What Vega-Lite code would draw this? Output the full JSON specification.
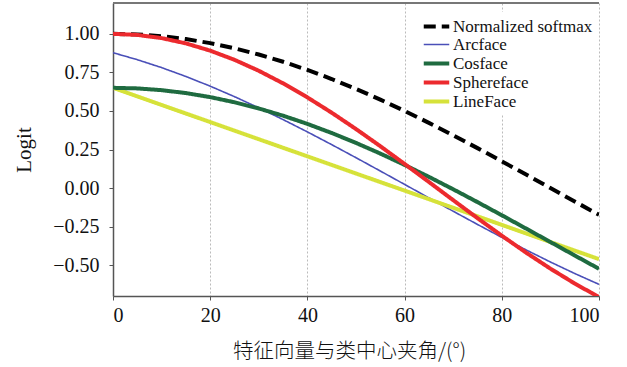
{
  "$schema": "https://vega.github.io/schema/vega-lite/v6.json",
  "width": 486,
  "height": 293,
  "padding": {"left": 113, "top": 3, "right": 28, "bottom": 71},
  "autosize": "none",
  "background": "white",
  "config": {
    "view": {"stroke": null},
    "font": "Liberation Serif",
    "axis": {
      "labelFont": "Liberation Serif",
      "titleFont": "Liberation Serif",
      "labelFontSize": 20,
      "titleFontSize": 21,
      "labelColor": "#111",
      "titleColor": "#111",
      "titleFontWeight": "normal",
      "domainColor": "#555",
      "domainWidth": 1.5,
      "tickColor": "#555",
      "tickSize": 4,
      "gridColor": "#bbbbbb",
      "gridDash": [2, 2],
      "gridWidth": 1
    }
  },
  "datasets": {
    "curves": [
      {"a": 0, "s": "Arcface", "v": 0.8776},
      {"a": 5, "s": "Arcface", "v": 0.8325},
      {"a": 10, "s": "Arcface", "v": 0.781},
      {"a": 15, "s": "Arcface", "v": 0.7236},
      {"a": 20, "s": "Arcface", "v": 0.6607},
      {"a": 25, "s": "Arcface", "v": 0.5927},
      {"a": 30, "s": "Arcface", "v": 0.5203},
      {"a": 35, "s": "Arcface", "v": 0.4439},
      {"a": 40, "s": "Arcface", "v": 0.3641},
      {"a": 45, "s": "Arcface", "v": 0.2815},
      {"a": 50, "s": "Arcface", "v": 0.1968},
      {"a": 55, "s": "Arcface", "v": 0.1106},
      {"a": 60, "s": "Arcface", "v": 0.0236},
      {"a": 65, "s": "Arcface", "v": -0.0636},
      {"a": 70, "s": "Arcface", "v": -0.1504},
      {"a": 75, "s": "Arcface", "v": -0.236},
      {"a": 80, "s": "Arcface", "v": -0.3198},
      {"a": 85, "s": "Arcface", "v": -0.4011},
      {"a": 90, "s": "Arcface", "v": -0.4794},
      {"a": 95, "s": "Arcface", "v": -0.5541},
      {"a": 100, "s": "Arcface", "v": -0.6245},

      {"a": 0, "s": "LineFace", "v": 0.65},
      {"a": 5, "s": "LineFace", "v": 0.5944},
      {"a": 10, "s": "LineFace", "v": 0.5389},
      {"a": 15, "s": "LineFace", "v": 0.4833},
      {"a": 20, "s": "LineFace", "v": 0.4278},
      {"a": 25, "s": "LineFace", "v": 0.3722},
      {"a": 30, "s": "LineFace", "v": 0.3167},
      {"a": 35, "s": "LineFace", "v": 0.2611},
      {"a": 40, "s": "LineFace", "v": 0.2056},
      {"a": 45, "s": "LineFace", "v": 0.15},
      {"a": 50, "s": "LineFace", "v": 0.0944},
      {"a": 55, "s": "LineFace", "v": 0.0389},
      {"a": 60, "s": "LineFace", "v": -0.0167},
      {"a": 65, "s": "LineFace", "v": -0.0722},
      {"a": 70, "s": "LineFace", "v": -0.1278},
      {"a": 75, "s": "LineFace", "v": -0.1833},
      {"a": 80, "s": "LineFace", "v": -0.2389},
      {"a": 85, "s": "LineFace", "v": -0.2944},
      {"a": 90, "s": "LineFace", "v": -0.35},
      {"a": 95, "s": "LineFace", "v": -0.4056},
      {"a": 100, "s": "LineFace", "v": -0.4611},

      {"a": 0, "s": "Cosface", "v": 0.65},
      {"a": 5, "s": "Cosface", "v": 0.6462},
      {"a": 10, "s": "Cosface", "v": 0.6348},
      {"a": 15, "s": "Cosface", "v": 0.6159},
      {"a": 20, "s": "Cosface", "v": 0.5897},
      {"a": 25, "s": "Cosface", "v": 0.5563},
      {"a": 30, "s": "Cosface", "v": 0.516},
      {"a": 35, "s": "Cosface", "v": 0.4692},
      {"a": 40, "s": "Cosface", "v": 0.416},
      {"a": 45, "s": "Cosface", "v": 0.3571},
      {"a": 50, "s": "Cosface", "v": 0.2928},
      {"a": 55, "s": "Cosface", "v": 0.2236},
      {"a": 60, "s": "Cosface", "v": 0.15},
      {"a": 65, "s": "Cosface", "v": 0.0726},
      {"a": 70, "s": "Cosface", "v": -0.008},
      {"a": 75, "s": "Cosface", "v": -0.0912},
      {"a": 80, "s": "Cosface", "v": -0.1764},
      {"a": 85, "s": "Cosface", "v": -0.2628},
      {"a": 90, "s": "Cosface", "v": -0.35},
      {"a": 95, "s": "Cosface", "v": -0.4372},
      {"a": 100, "s": "Cosface", "v": -0.5237},

      {"a": 0, "s": "Normalized softmax", "v": 1.0},
      {"a": 5, "s": "Normalized softmax", "v": 0.9962},
      {"a": 10, "s": "Normalized softmax", "v": 0.9848},
      {"a": 15, "s": "Normalized softmax", "v": 0.9659},
      {"a": 20, "s": "Normalized softmax", "v": 0.9397},
      {"a": 25, "s": "Normalized softmax", "v": 0.9063},
      {"a": 30, "s": "Normalized softmax", "v": 0.866},
      {"a": 35, "s": "Normalized softmax", "v": 0.8192},
      {"a": 40, "s": "Normalized softmax", "v": 0.766},
      {"a": 45, "s": "Normalized softmax", "v": 0.7071},
      {"a": 50, "s": "Normalized softmax", "v": 0.6428},
      {"a": 55, "s": "Normalized softmax", "v": 0.5736},
      {"a": 60, "s": "Normalized softmax", "v": 0.5},
      {"a": 65, "s": "Normalized softmax", "v": 0.4226},
      {"a": 70, "s": "Normalized softmax", "v": 0.342},
      {"a": 75, "s": "Normalized softmax", "v": 0.2588},
      {"a": 80, "s": "Normalized softmax", "v": 0.1736},
      {"a": 85, "s": "Normalized softmax", "v": 0.0872},
      {"a": 90, "s": "Normalized softmax", "v": 0.0},
      {"a": 95, "s": "Normalized softmax", "v": -0.0872},
      {"a": 100, "s": "Normalized softmax", "v": -0.1736},

      {"a": 0, "s": "Sphereface", "v": 1.0},
      {"a": 5, "s": "Sphereface", "v": 0.9931},
      {"a": 10, "s": "Sphereface", "v": 0.9724},
      {"a": 15, "s": "Sphereface", "v": 0.9382},
      {"a": 20, "s": "Sphereface", "v": 0.891},
      {"a": 25, "s": "Sphereface", "v": 0.8315},
      {"a": 30, "s": "Sphereface", "v": 0.7604},
      {"a": 35, "s": "Sphereface", "v": 0.6788},
      {"a": 40, "s": "Sphereface", "v": 0.5878},
      {"a": 45, "s": "Sphereface", "v": 0.4886},
      {"a": 50, "s": "Sphereface", "v": 0.3827},
      {"a": 55, "s": "Sphereface", "v": 0.2714},
      {"a": 60, "s": "Sphereface", "v": 0.1564},
      {"a": 65, "s": "Sphereface", "v": 0.0393},
      {"a": 70, "s": "Sphereface", "v": -0.0785},
      {"a": 75, "s": "Sphereface", "v": -0.1951},
      {"a": 80, "s": "Sphereface", "v": -0.309},
      {"a": 85, "s": "Sphereface", "v": -0.4187},
      {"a": 90, "s": "Sphereface", "v": -0.5225},
      {"a": 95, "s": "Sphereface", "v": -0.6191},
      {"a": 100, "s": "Sphereface", "v": -0.7071}
    ]
  },
  "data": {"name": "curves"},
  "layer": [
    {
      "mark": {"type": "rule", "color": "#777", "strokeWidth": 1.5},
      "encoding": {"y": {"datum": 1.2}}
    },
    {
      "mark": {"type": "line", "clip": true, "strokeCap": "butt"},
      "encoding": {
        "x": {
          "field": "a",
          "type": "quantitative",
          "scale": {"domain": [0, 100], "nice": false},
          "axis": {"values": [0, 20, 40, 60, 80, 100], "title": "特征向量与类中心夹角/(°)", "labelFont": "Liberation Serif", "labelFontSize": 20, "titleFont": "Noto Sans CJK SC", "titleFontSize": 20.5, "titleFontWeight": 300, "titlePadding": 16, "titleX": 236, "labelPadding": 5}
        },
        "y": {
          "field": "v",
          "type": "quantitative",
          "scale": {"domain": [-0.7, 1.2], "nice": false, "zero": false},
          "axis": {"values": [-0.5, -0.25, 0, 0.25, 0.5, 0.75, 1.0], "format": ".2f", "title": "Logit", "labelFont": "Liberation Serif", "labelFontSize": 20, "titleFont": "Liberation Serif", "titleFontSize": 21, "titlePadding": 18, "labelPadding": 10}
        },
        "color": {
          "field": "s",
          "type": "nominal",
          "scale": {
            "domain": ["Normalized softmax", "Arcface", "Cosface", "Sphereface", "LineFace"],
            "range": ["#000000", "#4a4fb8", "#1f6b40", "#ec2a2e", "#d6e23a"]
          },
          "legend": {
            "title": null,
            "orient": "none",
            "legendX": 309,
            "legendY": 9,
            "symbolType": "M-1.5,0L1.5,0",
            "symbolSize": 289,
            "labelFont": "Liberation Serif",
            "labelFontSize": 17,
            "labelColor": "#111",
            "rowPadding": 0,
            "labelOffset": 6,
            "fillColor": "white",
            "padding": 4
          }
        },
        "strokeDash": {
          "field": "s",
          "type": "nominal",
          "scale": {
            "domain": ["Normalized softmax", "Arcface", "Cosface", "Sphereface", "LineFace"],
            "range": [[12, 6], [1, 0], [1, 0], [1, 0], [1, 0]]
          },
          "legend": null
        },
        "strokeWidth": {
          "field": "s",
          "type": "nominal",
          "scale": {
            "type": "ordinal",
            "domain": ["Normalized softmax", "Arcface", "Cosface", "Sphereface", "LineFace"],
            "range": [4, 1.6, 4, 4, 4]
          },
          "legend": null
        },
        "order": {"field": "a", "type": "quantitative"}
      }
    }
  ]
}
